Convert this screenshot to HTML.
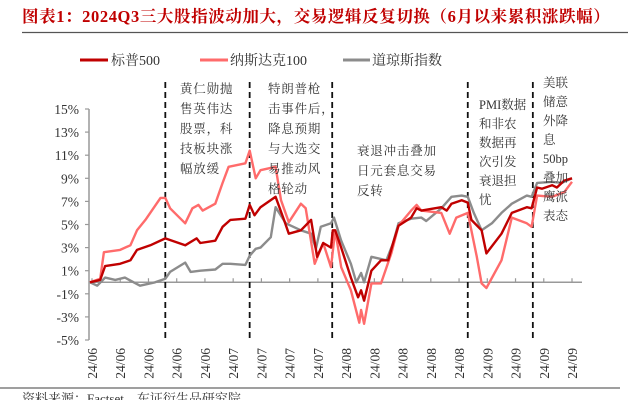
<!DOCTYPE html>
<html><head><meta charset="utf-8">
<style>
html,body{margin:0;padding:0;background:#fff;}
svg{display:block;font-family:"Liberation Serif","Noto Serif CJK SC","Noto Sans CJK SC",serif;}
</style></head>
<body>
<svg id="chart" width="633" height="400" viewBox="0 0 633 400" xmlns="http://www.w3.org/2000/svg">
<text x="22" y="22" font-size="16.5" fill="#c00000" font-weight="bold" letter-spacing="0.6">图表1：2024Q3三大股指波动加大，交易逻辑反复切换（6月以来累积涨跌幅）</text>
<line x1="22" y1="32.5" x2="628" y2="32.5" stroke="#555" stroke-width="1.2"/>
<g>
<g><line x1="80" y1="60" x2="108" y2="60" stroke="#c00000" stroke-width="3"/><text x="111" y="65" font-size="14" fill="#333">标普500</text></g>
<g><line x1="200" y1="60" x2="228" y2="60" stroke="#ff6b6b" stroke-width="3"/><text x="230" y="65" font-size="14" fill="#333">纳斯达克100</text></g>
<g><line x1="343" y1="60" x2="370" y2="60" stroke="#8c8c8c" stroke-width="3"/><text x="372" y="65" font-size="14" fill="#333">道琼斯指数</text></g>
</g>
<g id="axes"></g>
<g id="events"></g>
<g id="series"></g>
<g font-size="12.5" fill="#333" letter-spacing="0.8">
<text x="180" y="93"><tspan x="180">黄仁勋抛</tspan><tspan x="180" dy="20">售英伟达</tspan><tspan x="180" dy="20">股票，科</tspan><tspan x="180" dy="20">技板块涨</tspan><tspan x="180" dy="20">幅放缓</tspan></text>
<text x="268" y="93"><tspan x="268">特朗普枪</tspan><tspan x="268" dy="20">击事件后，</tspan><tspan x="268" dy="20">降息预期</tspan><tspan x="268" dy="20">与大选交</tspan><tspan x="268" dy="20">易推动风</tspan><tspan x="268" dy="20">格轮动</tspan></text>
<text x="357" y="155"><tspan x="357">衰退冲击叠加</tspan><tspan x="357" dy="20">日元套息交易</tspan><tspan x="357" dy="20">反转</tspan></text>
<text x="479" y="109" letter-spacing="0"><tspan x="479">PMI数据</tspan><tspan x="479" dy="19">和非农</tspan><tspan x="479" dy="19">数据再</tspan><tspan x="479" dy="19">次引发</tspan><tspan x="479" dy="19">衰退担</tspan><tspan x="479" dy="19">忧</tspan></text>
<text x="543" y="87" letter-spacing="0"><tspan x="543">美联</tspan><tspan x="543" dy="19">储意</tspan><tspan x="543" dy="19">外降</tspan><tspan x="543" dy="19">息</tspan><tspan x="543" dy="19">50bp</tspan><tspan x="543" dy="19">叠加</tspan><tspan x="543" dy="19">鹰派</tspan><tspan x="543" dy="19">表态</tspan></text>
</g>
<line x1="0" y1="388" x2="620" y2="388" stroke="#666" stroke-width="1.2"/>
<text x="22" y="403" font-size="13" fill="#333">资料来源：Factset，东证衍生品研究院</text>
</svg>
<script>
const yTicks = [15, 13, 11, 9, 7, 5, 3, 1, -1, -3, -5];
const xTickLabels = ["24/06","24/06","24/06","24/06","24/06","24/07","24/07","24/07","24/07","24/08","24/08","24/08","24/08","24/08","24/09","24/09","24/09","24/09"];
const eventDays = [12.5, 26.5, 40.2, 62.7, 73.5];
const sp500Days = [0,1.7,2.5,5,6.7,7.8,10,12.5,15.8,17.7,18.3,20.8,22,23.3,25.8,26.5,27.3,28.3,30.8,32.2,33,35,36.7,37.7,38.7,40,40.3,40.7,41.7,43.3,44.5,45,45.5,46.7,48.3,49.5,50.3,51.2,53.3,54.2,55,58.3,59.2,60,61.7,62.7,63.3,65,65.8,68.3,70,72.5,73.3,74.2,75,76.7,77.5,78.7,80];
const sp500Vals = [0,0.2,1.4,1.6,1.9,2.8,3.2,3.8,3.2,3.8,3.4,3.6,4.8,5.4,5.5,6.7,5.8,6.5,7.4,5.4,4.2,4.5,5.4,2.2,3.4,3.0,4.5,4.5,3.0,0.4,-1.3,-0.7,-1.6,1.0,1.9,1.9,3.4,4.9,5.6,6.4,6.2,6.5,6.2,6.8,7.1,6.9,5.4,4.5,2.5,4.2,6.0,6.5,6.4,8.2,8.1,8.4,8.2,8.8,9.0];
const ndxDays = [0,1.7,2.3,5,6.7,7.8,9.2,11.7,12.5,13.3,15.8,17,18,18.7,20.8,22,23,25.8,26.5,27.5,28.3,30.8,31.7,33,35,35.8,37.3,38.7,40,40.7,41.7,43.3,44.7,45,45.5,46.7,48.3,50,51.2,53.3,54.2,55,58.3,59.7,60.8,62.7,64.2,65,65.8,68.3,70,72.5,73.3,74.2,76.7,78.7,80];
const ndxVals = [0,0.3,2.6,2.8,3.2,4.5,5.4,7.3,7.3,6.4,5.1,6.4,6.7,6.2,6.8,8.6,10.0,10.3,11.4,9.0,9.7,10.0,7.1,5.2,6.8,6.4,1.6,3.4,1.3,4.5,1.3,-0.7,-3.5,-2.4,-3.6,-0.1,-0.1,2.5,4.9,6.2,6.7,6.2,6.0,4.2,5.6,6.0,2.2,-0.1,-0.5,1.9,5.6,5.1,4.8,7.5,7.4,7.8,8.7];
const dowDays = [0,1.2,2.5,4.2,5.8,8.3,10.8,12.5,13.3,15.8,16.7,18.3,20.8,22,23.3,25.8,26.5,27.5,28.3,30,30.8,32.5,35,36.7,37.5,38.3,40,40.5,41.7,43.3,44.2,45,45.5,46.7,49.2,50.3,51.2,53.3,55,55.8,58.3,60,61.7,62.7,63.7,65,66.7,68.3,70,72.5,73.3,74.2,76.7,78.3,80];
const dowVals = [0,-0.3,0.4,0.2,0.4,-0.3,0,0.3,0.9,1.7,0.9,1.0,1.1,1.6,1.6,1.5,2.3,2.9,3.0,3.9,6.5,5.1,4.5,4.2,2.9,4.8,5.1,5.6,3.6,1.6,0,0.8,0,2.2,1.9,3.4,5.1,5.5,5.6,5.3,6.4,7.4,7.5,7.4,6.0,4.5,5.1,6.0,6.8,7.5,7.4,8.6,8.7,8.6,9.0];

const NS = "http://www.w3.org/2000/svg";
const X0 = 90, X1 = 572, DMAX = 80;
const Y_TOP = 109, Y_BOT = 340, VMAX = 15, VMIN = -5;
function xScale(d){ return X0 + (d / DMAX) * (X1 - X0); }
function yScale(v){ return Y_BOT - (v - VMIN) / (VMAX - VMIN) * (Y_BOT - Y_TOP); }
function mk(tag, attrs, parent){ const e = document.createElementNS(NS, tag); for (const k in attrs) e.setAttribute(k, attrs[k]); parent.appendChild(e); return e; }

const axes = document.getElementById('axes');
const yAxis = mk('line', {x1:89, y1:Y_TOP, x2:89, y2:Y_BOT, stroke:'#999', 'stroke-width':1.5}, axes);


yTicks.forEach(v => {
  const y = yScale(v);
  const t = mk('line', {x1:85, y1:y, x2:89, y2:y, stroke:'#999', 'stroke-width':1.2}, axes);
  
  
  const l = mk('text', {x:79, y:y+5, 'text-anchor':'end', 'font-size':13.5, fill:'#333'}, axes);
  l.textContent = v + '%';
  
  
});
const y0 = yScale(0);
const xAxis = mk('line', {x1:89, y1:y0, x2:582, y2:y0, stroke:'#999', 'stroke-width':1.5}, axes);


const step = (X1 - 92) / (xTickLabels.length - 1);
xTickLabels.forEach((lab, i) => {
  const x = 92 + i * step;
  const t = mk('line', {x1:x, y1:y0-4, x2:x, y2:y0, stroke:'#999', 'stroke-width':1.2}, axes);
  
  
  const l = mk('text', {x:0, y:0, 'font-size':13.5, fill:'#333', 'text-anchor':'end', transform:'translate(' + (x+5) + ',348) rotate(-90)'}, axes);
  l.textContent = lab;
  
  
});

const ev = document.getElementById('events');
eventDays.forEach(d => {
  const x = xScale(d);
  const l = mk('line', {x1:x, y1:82, x2:x, y2:341, stroke:'#111', 'stroke-width':1.8, 'stroke-dasharray':'6,4'}, ev);
  
  
});

const ser = document.getElementById('series');
function line(days, vals){
  return days.map((d, i) => (i ? 'L' : 'M') + xScale(d).toFixed(1) + ',' + yScale(vals[i]).toFixed(1)).join(' ');
}
const pDow = mk('path', {d: line(dowDays, dowVals), fill:'none', stroke:'#8c8c8c', 'stroke-width':2.4, 'stroke-linejoin':'round'}, ser);


const pNdx = mk('path', {d: line(ndxDays, ndxVals), fill:'none', stroke:'#ff6b6b', 'stroke-width':2.4, 'stroke-linejoin':'round'}, ser);


const pSp = mk('path', {d: line(sp500Days, sp500Vals), fill:'none', stroke:'#c00000', 'stroke-width':2.4, 'stroke-linejoin':'round'}, ser);


</script>
</body></html>
